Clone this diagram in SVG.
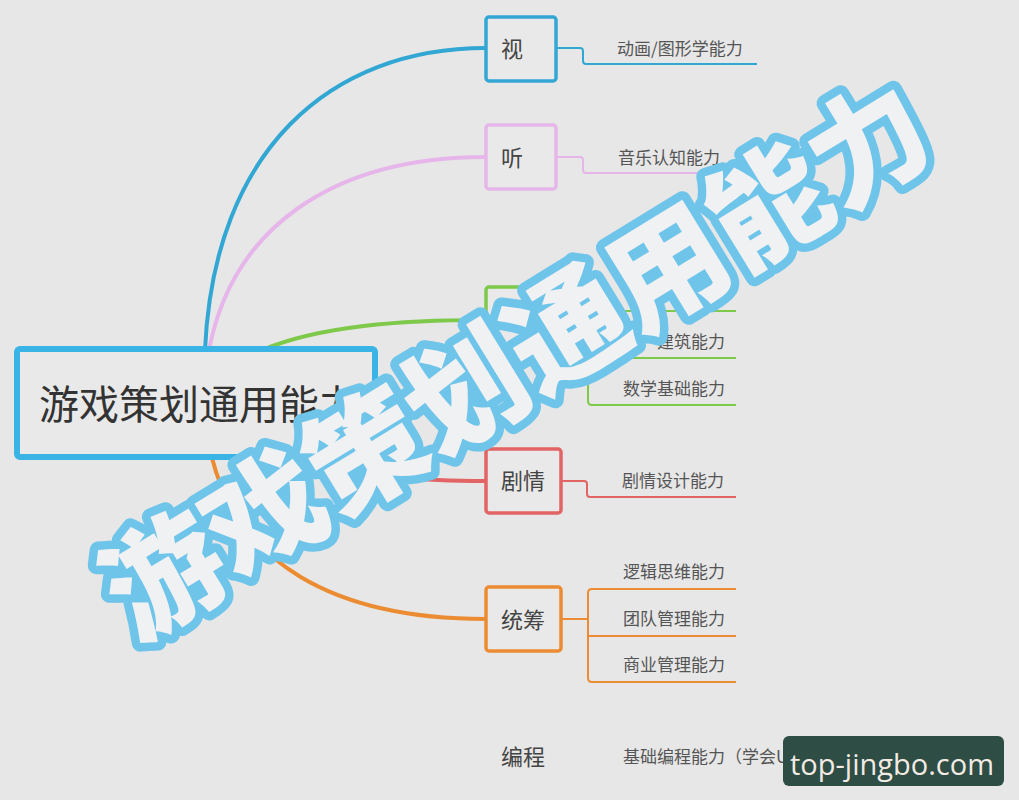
<svg xmlns="http://www.w3.org/2000/svg" width="1019" height="800" viewBox="0 0 1019 800">
<style>
.bg{fill:#e7e7e7}
.node rect{fill:#e9e9e9;stroke-width:3.5}
.nt{font-family:"Noto Sans CJK SC","Noto Sans",sans-serif;font-size:22px;fill:#444}
.lb{font-family:"Noto Sans CJK SC","Noto Sans",sans-serif;font-size:17px;fill:#555}
.conn path{fill:none}
.main{stroke-width:4}
.sub{stroke-width:2}
.blue{stroke:#33a7d3}
.pink{stroke:#e6b6ea}
.green{stroke:#7ec94a}
.red{stroke:#e26464}
.orange{stroke:#ec8c32}
.big{font-family:"Noto Sans CJK SC",sans-serif;font-weight:900;font-size:118px;fill:#eff1f3;stroke:#6fc4ea;stroke-width:17;stroke-linejoin:round;paint-order:stroke}
</style>
<rect class="bg" x="0" y="0" width="1019" height="800"/>
<g id="connectors" class="conn">
  <path class="main blue" d="M205,350 C214,150 330,48 486,48"/>
  <path class="main pink" d="M209,350 C232,230 330,157 486,157"/>
  <path class="main green" d="M262,350 C320,326 400,320 486,320"/>
  <path class="main red" d="M330,458 C380,478 420,481 486,481"/>
  <path class="main orange" d="M212,458 C238,560 330,619 486,619"/>
  <path class="sub blue" d="M556,48 H580 Q583,48 583,51 V61 Q583,64 586,64 H757"/>
  <path class="sub pink" d="M556,157 H580 Q583,157 583,160 V170 Q583,173 586,173 H757"/>
  <path class="sub green" d="M556,319 H588 M736,311 H592 Q588,311 588,315 V401 Q588,405 592,405 H736 M588,358 H736"/>
  <path class="sub red" d="M561,481 H584 Q587,481 587,484 V494 Q587,497 590,497 H736"/>
  <path class="sub orange" d="M561,619 H588 M736,589 H592 Q588,589 588,593 V678 Q588,682 592,682 H736 M588,636 H736"/>
</g>
<g id="node-root" class="node">
  <rect x="17" y="349" width="358" height="108" rx="3" style="stroke:#3ab3e5;stroke-width:6"/>
  <text x="39" y="419" style="font-family:'Noto Sans CJK SC','Noto Sans',sans-serif;font-size:40px;fill:#333">游戏策划通用能力</text>
</g>
<g id="node-shi" class="node">
  <rect x="486" y="17" width="70" height="64" rx="3" class="blue"/>
  <text class="nt" x="501" y="57">视</text>
  <text class="lb" x="617" y="55">动画/图形学能力</text>
</g>
<g id="node-ting" class="node">
  <rect x="486" y="125" width="70" height="64" rx="3" class="pink"/>
  <text class="nt" x="501" y="166">听</text>
  <text class="lb" x="618" y="164">音乐认知能力</text>
</g>
<g id="node-green" class="node">
  <rect x="486" y="287" width="70" height="64" rx="3" class="green"/>
  <text class="lb" x="657" y="348">建筑能力</text>
  <text class="lb" x="623" y="395">数学基础能力</text>
</g>
<g id="node-juqing" class="node">
  <rect x="486" y="449" width="75" height="64" rx="3" class="red"/>
  <text class="nt" x="501" y="489">剧情</text>
  <text class="lb" x="622" y="487">剧情设计能力</text>
</g>
<g id="node-tongchou" class="node">
  <rect x="486" y="587" width="75" height="64" rx="3" class="orange"/>
  <text class="nt" x="501" y="628">统筹</text>
  <text class="lb" x="623" y="578">逻辑思维能力</text>
  <text class="lb" x="623" y="625">团队管理能力</text>
  <text class="lb" x="623" y="671">商业管理能力</text>
</g>
<g id="node-biancheng">
  <text class="nt" x="501" y="765">编程</text>
  <text class="lb" x="623" y="763">基础编程能力（学会UE或者Unity等游戏引擎）</text>
</g>
<g id="overlay-title">
  <text class="big" transform="translate(517,361) rotate(-31.5)" x="0" y="42" text-anchor="middle">游戏策划通用能力</text>
</g>
<g id="watermark">
  <rect x="783" y="736" width="221" height="50" rx="6" fill="#2e4d45"/>
  <text x="790" y="775" style="font-family:'Open Sans','Noto Sans',sans-serif;font-size:29px;fill:#f3ebe3">top-jingbo.com</text>
</g>
</svg>
